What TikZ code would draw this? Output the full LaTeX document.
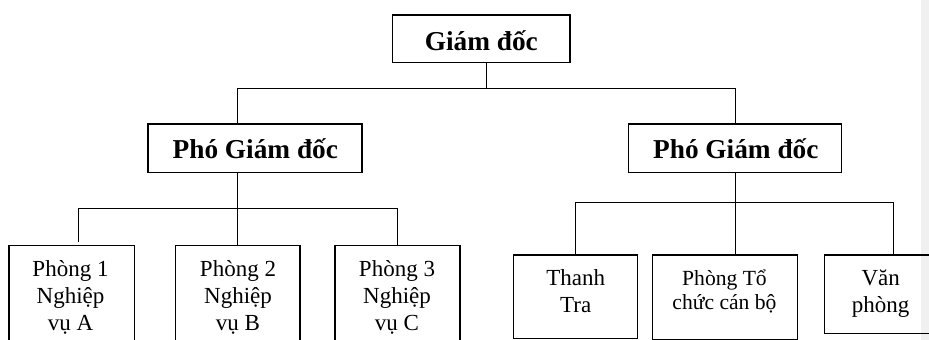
\documentclass[tikz,border=0pt]{standalone}
\usepackage{fontspec}
\setmainfont{Liberation Serif}
\begin{document}
\begin{tikzpicture}[x=1pt,y=-1pt,
  box/.style={draw=black,line width=1.1pt,inner sep=0pt,rectangle},
  conn/.style={draw=black,line width=1pt},
  head/.style={font=\fontsize{27.3}{30}\selectfont\bfseries,inner sep=0pt,anchor=base},
  lbl/.style={font=\fontsize{23}{27}\selectfont,inner sep=0pt,anchor=base,align=center},
  lbls/.style={font=\fontsize{21.6}{24.3}\selectfont,inner sep=0pt,anchor=base,align=center}]
\clip (0,0) rectangle (929,340);
\fill[black!6] (920.7,0) rectangle (929,340);
% boxes
\node[box,minimum width=177.3pt,minimum height=47.7pt] (gd) at (481.35,38.85) {};
\node[box,minimum width=214pt,minimum height=48.7pt] (pL) at (255,148.35) {};
\node[box,minimum width=213.4pt,minimum height=48.7pt] (pR) at (735,148.35) {};
\node[box,minimum width=125.3pt,minimum height=114.3pt] (b1) at (71.65,302.85) {};
\node[box,minimum width=124.3pt,minimum height=114.3pt] (b2) at (237.85,302.85) {};
\node[box,minimum width=125pt,minimum height=114.3pt] (b3) at (397.5,302.85) {};
\node[box,minimum width=124pt,minimum height=83.3pt] (r1) at (575.3,296.65) {};
\node[box,minimum width=145.4pt,minimum height=84.5pt] (r2) at (725,297.25) {};
\node[box,minimum width=113pt,minimum height=78.3pt] (r3) at (880.8,294.15) {};
% texts (base = baseline of the last line)
\node[head] (gdt) at (481.3,50.7) {Giám đốc};
\node[head] (pLt) at (255.3,158.3) {Phó Giám đốc};
\node[head] (pRt) at (735.8,158.3) {Phó Giám đốc};
\node[lbl] (b1t) at (70.5,330) {Phòng 1\\Nghiệp\\vụ A};
\node[lbl] (b2t) at (238,330) {Phòng 2\\Nghiệp\\vụ B};
\node[lbl] (b3t) at (397,330) {Phòng 3\\Nghiệp\\vụ C};
\node[lbl] (r1t) at (575.7,312.3) {Thanh\\Tra};
\node[lbls] (r2t) at (724.5,309.3) {Phòng Tổ\\chức cán bộ};
\node[lbl] (r3t) at (880.7,312.3) {Văn\\phòng};
% junction coordinates
\coordinate (j0) at (486.7,88.3);
\coordinate (jL) at (237.7,88.3);
\coordinate (hL1) at (78,208.3);
\coordinate (hL3) at (397,208.3);
\coordinate (hR1) at (575.7,202.3);
\coordinate (hR3) at (893.3,202.3);
% connectors
\draw[conn] (gd.south -| j0) -- (j0);
\draw[conn] (pL.north -| jL) -- (jL) -- (j0 -| pR.north) -- (pR.north);
\draw[conn] (pL.south -| jL) -- (b2.north -| jL);
\draw[conn] ([yshift=3pt]hL1 |- b1.north) -- (hL1) -- (hL3) -- (hL3 |- b3.north);
\draw[conn] (pR.south) -- (r2.north -| pR.south);
\draw[conn] (hR1 |- r1.north) -- (hR1) -- (hR3) -- (hR3 |- r3.north);
\end{tikzpicture}
\end{document}
